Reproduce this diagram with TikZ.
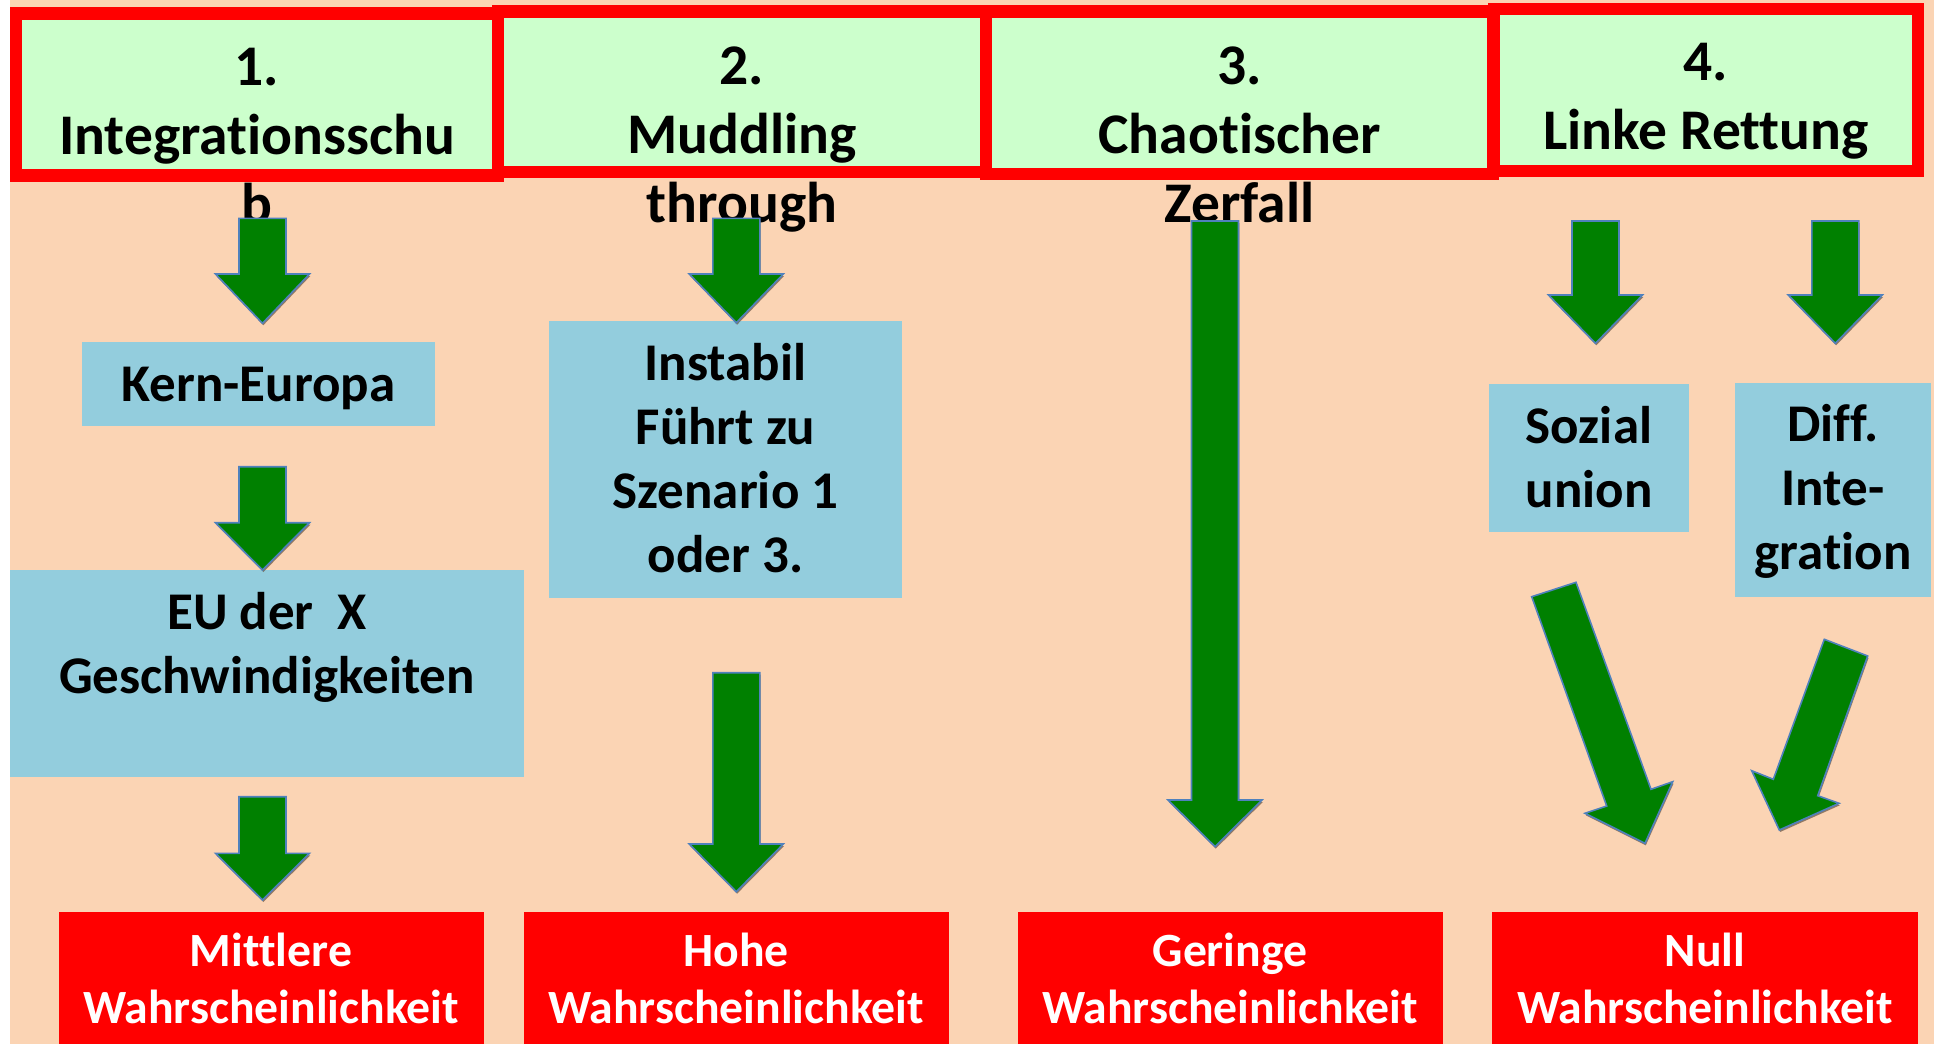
\documentclass[tikz,border=0pt]{standalone}
\usepackage{fontspec}
\setmainfont{Carlito}[Ligatures=NoCommon]
\definecolor{peach}{HTML}{FBD4B4}
\definecolor{hdrgreen}{HTML}{CCFFCC}
\definecolor{boxblue}{HTML}{93CDDD}
\definecolor{arrgreen}{HTML}{008000}
\definecolor{arredge}{HTML}{4F81BD}
\definecolor{arrshadow}{HTML}{6E5B4A}
\tikzset{
  hdr/.style={draw=red, line width=12.5pt, fill=hdrgreen, inner sep=0pt, outer sep=0pt, anchor=north west},
  bluebox/.style={fill=boxblue, inner sep=0pt, outer sep=0pt, anchor=north west},
  redbox/.style={fill=red, inner sep=0pt, outer sep=0pt, anchor=north west},
  txt/.style={anchor=base, text width=520pt, align=flush center, inner sep=0pt},
  hdrtext/.style={txt, font=\fontsize{57.5}{69}\selectfont\bfseries},
  bluetext/.style={txt, font=\fontsize{53}{64}\selectfont\bfseries},
  redtext/.style={txt, text=white, font=\fontsize{47.7}{56.7}\selectfont\bfseries},
  blockarrow/.style={fill=arrgreen, draw=arredge, line width=1.6pt, line join=miter},
  blockshadow/.style={fill=arrshadow, opacity=0.75}
}
% vertical block arrow: centre x, top y, head y, tip y
\newcommand\garrowdown[4]{%
  \fill[blockshadow, shift={(0.8,2)}] (#1-23.5,#2) -- (#1+23.5,#2) -- (#1+23.5,#3) -- (#1+47,#3) -- (#1,#4) -- (#1-47,#3) -- (#1-23.5,#3) -- cycle;
  \draw[blockarrow] (#1-23.5,#2) -- (#1+23.5,#2) -- (#1+23.5,#3) -- (#1+47,#3) -- (#1,#4) -- (#1-47,#3) -- (#1-23.5,#3) -- cycle;}
\begin{document}
\begin{tikzpicture}[x=1pt, y=-1pt]
\useasboundingbox (0,0) rectangle (1934,1044);
\fill[white] (0,0) rectangle (1934,1044);
\fill[peach] (10,0) rectangle (1934,1044);

% header boxes
\node[hdr, minimum width=482pt, minimum height=162pt] (h1) at (16,13.5) {};
\node[hdr, minimum width=488pt, minimum height=160.5pt] (h2) at (498,11.25) {};
\node[hdr, minimum width=507pt, minimum height=162.5pt] (h3) at (986,11.25) {};
\node[hdr, minimum width=424pt, minimum height=162pt] (h4) at (1494,9) {};

% blue boxes
\node[bluebox, minimum width=353pt, minimum height=83.7pt] (kern) at (82,342) {};
\node[bluebox, minimum width=514pt, minimum height=206.7pt] (eu) at (10,570) {};
\node[bluebox, minimum width=352.4pt, minimum height=277.3pt] (inst) at (549.3,321) {};
\node[bluebox, minimum width=199.4pt, minimum height=148.3pt] (sozial) at (1489.3,384) {};
\node[bluebox, minimum width=196pt, minimum height=213.7pt] (diff) at (1735,383) {};

% red boxes
\node[redbox, minimum width=424.5pt, minimum height=132pt] (r1) at (59,912) {};
\node[redbox, minimum width=424.5pt, minimum height=132pt] (r2) at (524,912) {};
\node[redbox, minimum width=425.5pt, minimum height=132pt] (r3) at (1017.5,912) {};
\node[redbox, minimum width=426pt, minimum height=132pt] (r4) at (1492,912) {};

% header texts
\node[hdrtext] (h1t) at (257,85) {1.\\Integrationsschu\\b};
\node[hdrtext] (h2t) at (742,84) {2.\\Muddling\\through};
\node[hdrtext] (h3t) at (1239.5,84) {3.\\Chaotischer\\Zerfall};
\node[hdrtext] (h4t) at (1706,80) {4.\\Linke Rettung};

% blue texts
\node[bluetext] (kernt) at (258.5,401.7) {Kern-Europa};
\node[bluetext] (eut) at (267,629.3) {EU der~~X\\Geschwindigkeiten};
\node[bluetext] (instt) at (725.5,380) {Instabil\\Führt zu\\Szenario 1\\oder 3.};
\node[bluetext] (sozialt) at (1589,443.3) {Sozial\\union};
\node[bluetext] (difft) at (1833,441.7) {Diff.\\Inte-\\gration};

% red texts
\node[redtext] (r1t) at (271,966.7) {Mittlere\\Wahrscheinlichkeit};
\node[redtext] (r2t) at (736,966.7) {Hohe\\Wahrscheinlichkeit};
\node[redtext] (r3t) at (1230,966.7) {Geringe\\Wahrscheinlichkeit};
\node[redtext] (r4t) at (1705,966.7) {Null\\Wahrscheinlichkeit};

% vertical block arrows
\garrowdown{262.5}{218.3}{274}{323.3}
\garrowdown{262.5}{466.7}{522.7}{570}
\garrowdown{262.5}{796.7}{853.3}{900}
\garrowdown{736.3}{218.3}{274}{322.7}
\garrowdown{736.3}{672.7}{844}{891.7}
\garrowdown{1215}{221}{800}{846.6}
\garrowdown{1595.5}{221}{295}{343.3}
\garrowdown{1835.3}{221}{295}{343.3}

% diagonal block arrows
\fill[blockshadow, shift={(0.8,2)}] (1531.7,596.7) -- (1576,582.3) -- (1651,789.3) -- (1672.7,781.7) -- (1645,843.3) -- (1585,813.3) -- (1606.7,806) -- cycle;
\draw[blockarrow] (1531.7,596.7) -- (1576,582.3) -- (1651,789.3) -- (1672.7,781.7) -- (1645,843.3) -- (1585,813.3) -- (1606.7,806) -- cycle;
\fill[blockshadow, shift={(0.8,2)}] (1824.3,639.3) -- (1867.7,656) -- (1817.7,795.7) -- (1839,803.3) -- (1779.3,830) -- (1751.7,770.7) -- (1773.3,779.3) -- cycle;
\draw[blockarrow] (1824.3,639.3) -- (1867.7,656) -- (1817.7,795.7) -- (1839,803.3) -- (1779.3,830) -- (1751.7,770.7) -- (1773.3,779.3) -- cycle;
\end{tikzpicture}
\end{document}
